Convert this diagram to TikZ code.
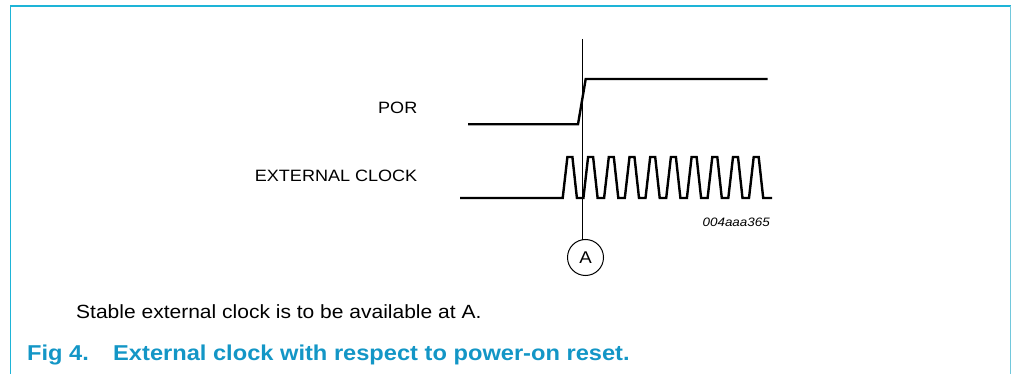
\documentclass[tikz,border=0pt]{standalone}
\usepackage{fontspec}
\setmainfont{Liberation Sans}
\newfontfamily\labfont[FakeStretch=1.1]{Liberation Sans}
\definecolor{framecol}{HTML}{1EB4D7}
\definecolor{framecolr}{HTML}{72C8DC}
\definecolor{capcol}{HTML}{1396C6}
\tikzset{
  sig/.style={line width=2.4pt, black, line join=miter},
  lab/.style={inner sep=0pt, font=\labfont\fontsize{16.4}{19}\selectfont},
  marker/.style={line width=0.9pt, black},
}
\begin{document}
\begin{tikzpicture}[x=1pt,y=-1pt]
\useasboundingbox (0,0) rectangle (1012,374);
% frame
\draw[framecol, line width=1.5pt] (10.5,374) -- (10.5,6) -- (1010.5,6);
\draw[framecolr, line width=1.5pt] (1010.5,6) -- (1010.5,374);
% labels
\node[lab, anchor=base east] (por) at (417.5,113.3) {POR};
\node[lab, anchor=base east] (clk) at (417.5,182) {EXTERNAL CLOCK};
\node[inner sep=0pt, anchor=base east, font=\labfont\itshape\fontsize{12.2}{14}\selectfont] (code) at (770,227) {004aaa365};
% POR signal
\draw[sig] (468,124.3) -- (578,124.3) -- (585.7,79) -- (767.7,79);
% clock signal
\draw[sig] (460,198)
  \foreach \k in {0,...,9} {
    -- ({562.7+20.7*\k},198) -- ({567.4+20.7*\k},157) -- ({572.4+20.7*\k},157) -- ({576.9+20.7*\k},198)
  } -- (772,198);
% marker line and circle
\node[draw, circle, line width=1pt, minimum size=36pt, inner sep=0pt, font=\labfont\fontsize{17}{19}\selectfont] (A) at (585.5,257.5) {A};
\coordinate (vtop) at (582,39);
\coordinate (vbot) at (582,239.7);
\draw[marker] (vtop) -- (vbot);
% note and caption
\node[inner sep=0pt, anchor=base west, font=\labfont\fontsize{19.1}{22}\selectfont] (note) at (76,318) {Stable external clock is to be available at A.};
\node[inner sep=0pt, anchor=base west, text=capcol, font=\labfont\bfseries\fontsize{21.5}{24}\selectfont] (fig) at (27,360.5) {Fig 4.};
\node[inner sep=0pt, anchor=base west, text=capcol, font=\labfont\bfseries\fontsize{21.5}{24}\selectfont] (cap) at (113,360.5) {External clock with respect to power-on reset.};
\end{tikzpicture}
\end{document}
